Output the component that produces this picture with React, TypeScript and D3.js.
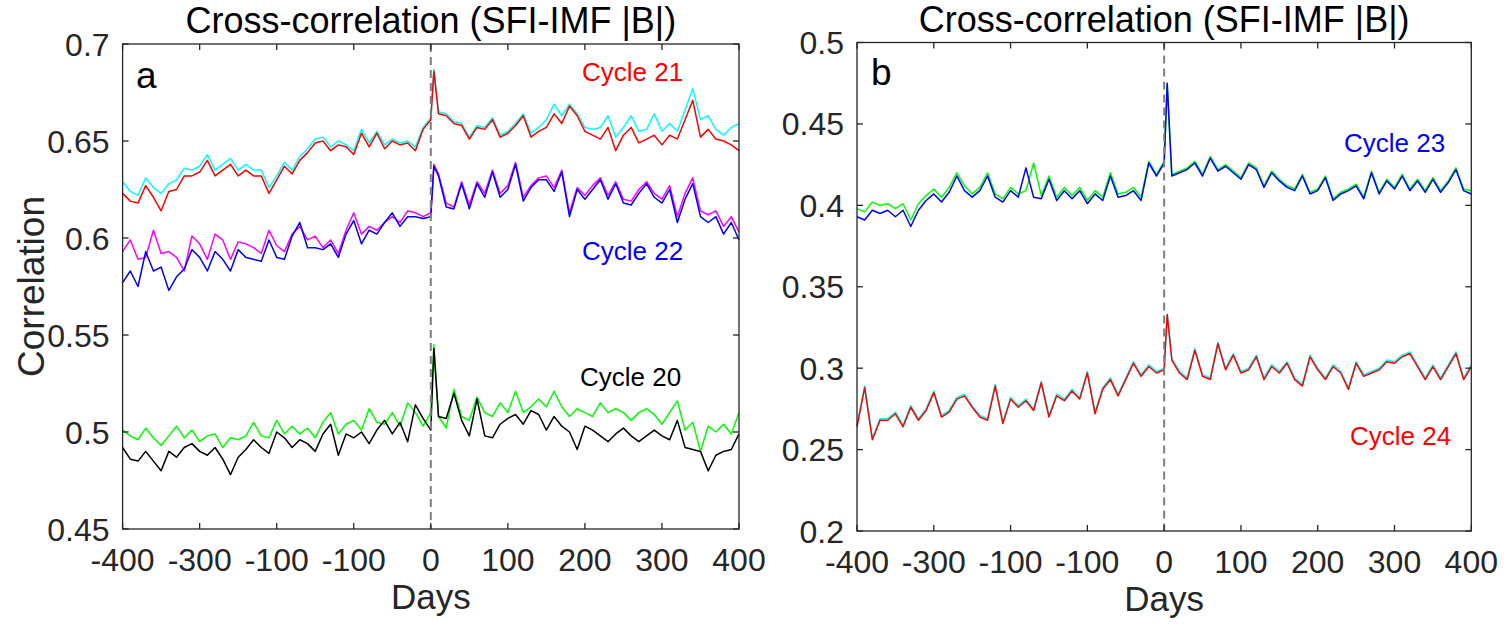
import React from 'react';
import * as d3 from 'd3';

// lag grid (days): every 10 days, plus the spike just after 0
const DAYS = [...d3.range(-400, 1, 10), 4, ...d3.range(10, 401, 10)];

const X_TICKS = [-400, -300, -200, -100, 0, 100, 200, 300, 400];
const X_TICK_LABELS = ['-400', '-300', '-100', '-100', '0', '100', '200', '300', '400'];
const A_Y_TICKS = [0.45, 0.5, 0.55, 0.6, 0.65, 0.7];
const A_Y_LABELS = ['0.45', '0.5', '0.55', '0.6', '0.65', '0.7'];
const B_Y_TICKS = [0.2, 0.25, 0.3, 0.35, 0.4, 0.45, 0.5];
const B_Y_LABELS = ['0.2', '0.25', '0.3', '0.35', '0.4', '0.45', '0.5'];

// panel a
const C21_CYAN = [
  .629, .624, .622, .631, .626, .623, .628, .630, .636, .635, .637, .643, .635, .638, .641, .635, .638, .635, .635, .626,
  .632, .639, .635, .642, .646, .651, .652, .647, .650, .648, .645, .656, .649, .655, .648, .651, .649, .650, .647, .657, .662,
  .687,
  .665, .664, .660, .659, .652, .658, .657, .662, .653, .655, .659, .664, .654, .657, .661, .669, .663, .669, .664, .657,
  .656, .657, .663, .652, .657, .663, .655, .656, .664, .655, .659, .655, .666, .677, .661, .663, .656, .653, .657, .659,
];
const C21_RED = [
  .623, .619, .618, .627, .621, .614, .624, .625, .632, .632, .634, .640, .632, .635, .638, .632, .635, .632, .632, .623,
  .630, .637, .633, .640, .644, .649, .650, .645, .648, .647, .643, .654, .647, .654, .646, .650, .648, .649, .645, .656, .661,
  .686,
  .664, .663, .659, .658, .651, .657, .656, .661, .652, .654, .658, .663, .652, .655, .657, .664, .659, .668, .663, .655,
  .653, .651, .657, .645, .653, .657, .649, .651, .653, .648, .653, .651, .661, .671, .652, .656, .651, .650, .648, .645,
];
const C22_MAGENTA = [
  .593, .599, .589, .590, .604, .592, .593, .590, .583, .601, .597, .589, .602, .599, .589, .598, .597, .595, .592, .604,
  .596, .593, .602, .606, .599, .601, .595, .599, .592, .604, .613, .602, .606, .604, .608, .611, .608, .614, .613, .611, .613,
  .638,
  .633, .618, .616, .629, .617, .629, .623, .635, .623, .627, .639, .621, .627, .631, .632, .626, .635, .613, .626, .622,
  .627, .631, .622, .629, .620, .619, .625, .629, .623, .620, .627, .611, .623, .631, .614, .612, .614, .606, .611, .603,
];
const C22_BLUE = [
  .577, .583, .575, .593, .583, .585, .573, .580, .584, .594, .590, .583, .593, .589, .583, .594, .590, .589, .588, .599,
  .590, .589, .601, .608, .595, .595, .594, .597, .590, .602, .609, .597, .604, .602, .608, .613, .606, .611, .611, .610, .611,
  .637,
  .632, .616, .615, .628, .615, .628, .621, .634, .621, .625, .638, .619, .626, .630, .630, .624, .634, .611, .625, .620,
  .625, .630, .620, .628, .618, .617, .623, .628, .621, .618, .625, .608, .620, .628, .611, .608, .611, .602, .608, .599,
];
const C20_GREEN = [
  .501, .498, .496, .502, .497, .493, .498, .503, .497, .501, .495, .498, .499, .492, .497, .496, .498, .505, .498, .497,
  .506, .499, .503, .499, .502, .497, .505, .510, .499, .504, .506, .501, .512, .505, .504, .510, .503, .515, .510, .503, .510,
  .545,
  .508, .502, .522, .508, .506, .518, .510, .508, .515, .510, .521, .510, .513, .517, .513, .521, .513, .508, .512, .510,
  .508, .515, .510, .512, .510, .506, .510, .512, .509, .504, .510, .516, .501, .505, .490, .503, .500, .504, .499, .510,
];
const C20_BLACK = [
  .492, .486, .485, .490, .485, .480, .490, .487, .492, .494, .490, .488, .492, .486, .478, .487, .491, .496, .492, .489,
  .500, .497, .492, .496, .494, .490, .499, .504, .488, .499, .497, .500, .494, .501, .506, .499, .505, .495, .514, .507, .501,
  .543,
  .508, .507, .520, .506, .498, .517, .498, .497, .504, .507, .509, .504, .511, .509, .501, .508, .503, .500, .491, .503,
  .501, .498, .495, .499, .502, .498, .495, .498, .501, .498, .496, .506, .492, .491, .490, .480, .488, .490, .491, .499,
];

// panel b
const C23_GREEN = [
  .398, .396, .402, .400, .401, .398, .401, .391, .401, .406, .410, .405, .411, .420, .412, .407, .411, .420, .407, .404,
  .411, .407, .409, .426, .406, .418, .405, .411, .406, .411, .403, .409, .405, .420, .407, .408, .411, .405, .427, .419, .427,
  .474,
  .419, .421, .423, .427, .419, .430, .422, .425, .421, .417, .426, .423, .412, .421, .416, .412, .410, .419, .408, .410,
  .418, .404, .408, .410, .413, .405, .421, .408, .416, .411, .419, .410, .416, .409, .417, .409, .415, .423, .410, .409,
];
const C23_BLUE = [
  .393, .391, .397, .395, .397, .393, .397, .387, .397, .403, .407, .402, .408, .418, .409, .405, .409, .418, .405, .402,
  .409, .405, .423, .405, .404, .416, .403, .409, .404, .409, .401, .407, .403, .418, .405, .406, .409, .403, .426, .418, .426,
  .475,
  .418, .420, .422, .426, .418, .429, .421, .424, .420, .416, .425, .422, .411, .420, .415, .411, .409, .418, .407, .409,
  .417, .403, .407, .409, .412, .404, .420, .407, .415, .410, .418, .409, .415, .408, .416, .408, .414, .422, .409, .407,
];
const C24_CYAN = [
  .265, .289, .257, .269, .269, .273, .265, .277, .269, .275, .286, .271, .274, .282, .284, .277, .271, .269, .290, .267,
  .282, .277, .281, .275, .292, .271, .284, .281, .287, .282, .298, .273, .288, .294, .284, .294, .304, .296, .302, .298, .300,
  .333,
  .306, .298, .294, .312, .296, .294, .316, .300, .309, .298, .300, .308, .294, .302, .298, .304, .294, .290, .308, .300,
  .294, .302, .298, .288, .304, .296, .298, .300, .305, .304, .308, .310, .302, .294, .302, .294, .302, .310, .294, .302,
];
const C24_RED = [
  .264, .288, .256, .268, .268, .272, .264, .276, .268, .274, .285, .270, .273, .281, .283, .276, .270, .268, .289, .266,
  .281, .276, .280, .274, .291, .270, .283, .280, .286, .281, .297, .272, .287, .293, .283, .293, .303, .295, .301, .297, .299,
  .333,
  .305, .297, .293, .311, .295, .293, .315, .299, .308, .297, .299, .307, .293, .301, .297, .303, .293, .289, .307, .299,
  .293, .301, .297, .287, .303, .295, .297, .299, .304, .303, .307, .309, .301, .293, .301, .293, .301, .309, .293, .301,
];

const FONT = '"Liberation Sans", Arial, Helvetica, sans-serif';
const AXIS_COLOR = '#262626';

interface Series { values: number[]; color: string }
interface Label { text: string; color: string; x: number; y: number }

interface PanelProps {
  left: number; right: number; top: number; bottom: number;
  yDomain: [number, number];
  yTicks: number[]; yLabels: string[];
  series: Series[];
  labels: Label[];
  letter: string; letterX: number; letterY: number;
  yTitle?: string;
}

function Panel(p: PanelProps) {
  const x = d3.scaleLinear().domain([-400, 400]).range([p.left, p.right]);
  const y = d3.scaleLinear().domain(p.yDomain).range([p.bottom, p.top]);
  const line = d3.line<number>().x((_, i) => x(DAYS[i])).y(d => y(d));
  const tickLen = 6;
  const cx = (p.left + p.right) / 2;

  return (
    <g fontFamily={FONT}>
      {/* series */}
      {p.series.map((s, i) => (
        <path key={i} d={line(s.values) ?? ''} fill="none" stroke={s.color} strokeWidth={1.5} strokeLinejoin="round" />
      ))}
      {/* zero-lag marker */}
      <line x1={x(0)} x2={x(0)} y1={p.top} y2={p.bottom} stroke="#7f7f7f" strokeWidth={2} strokeDasharray="8,5" />
      {/* box */}
      <rect x={p.left} y={p.top} width={p.right - p.left} height={p.bottom - p.top} fill="none" stroke={AXIS_COLOR} strokeWidth={1.3} />
      {X_TICKS.map((t, i) => (
        <g key={'x' + i}>
          <line x1={x(t)} x2={x(t)} y1={p.bottom} y2={p.bottom - tickLen} stroke={AXIS_COLOR} strokeWidth={1.3} />
          <line x1={x(t)} x2={x(t)} y1={p.top} y2={p.top + tickLen} stroke={AXIS_COLOR} strokeWidth={1.3} />
          <text x={x(t)} y={p.bottom + 42} textAnchor="middle" fontSize={32} fill={AXIS_COLOR}>{X_TICK_LABELS[i]}</text>
        </g>
      ))}
      {p.yTicks.map((t, i) => (
        <g key={'y' + i}>
          <line x1={p.left} x2={p.left + tickLen} y1={y(t)} y2={y(t)} stroke={AXIS_COLOR} strokeWidth={1.3} />
          <line x1={p.right} x2={p.right - tickLen} y1={y(t)} y2={y(t)} stroke={AXIS_COLOR} strokeWidth={1.3} />
          <text x={p.left - 13} y={y(t)} dy="0.36em" textAnchor="end" fontSize={32} fill={AXIS_COLOR}>{p.yLabels[i]}</text>
        </g>
      ))}
      <text x={cx} y={p.bottom + 80} textAnchor="middle" fontSize={35} fill={AXIS_COLOR}>Days</text>
      <text x={cx} y={p.top - 11} textAnchor="middle" fontSize={36} fill="#000">Cross-correlation (SFI-IMF |B|)</text>
      {p.yTitle && (
        <text transform={`translate(44,${(p.top + p.bottom) / 2}) rotate(-90)`} textAnchor="middle" fontSize={37} fill={AXIS_COLOR}>
          {p.yTitle}
        </text>
      )}
      <text x={p.letterX} y={p.letterY} fontSize={37} fill="#000">{p.letter}</text>
      {p.labels.map((l, i) => (
        <text key={'l' + i} x={l.x} y={l.y} fontSize={26} fill={l.color}>{l.text}</text>
      ))}
    </g>
  );
}

export default function App() {
  return (
    <div>
      <style>{'body{margin:0;background:#fff}'}</style>
      <svg width={1508} height={624} style={{ display: 'block', background: '#fff' }}>
        <Panel
          left={122.6} right={739} top={44} bottom={529}
          yDomain={[0.45, 0.7]} yTicks={A_Y_TICKS} yLabels={A_Y_LABELS}
          series={[
            { values: C21_CYAN, color: '#00ffff' },
            { values: C21_RED, color: '#ff0000' },
            { values: C22_MAGENTA, color: '#ff00ff' },
            { values: C22_BLUE, color: '#0000ff' },
            { values: C20_GREEN, color: '#00ff00' },
            { values: C20_BLACK, color: '#000000' },
          ]}
          labels={[
            { text: 'Cycle 21', color: '#ff0000', x: 582, y: 81 },
            { text: 'Cycle 22', color: '#0000ff', x: 582, y: 260 },
            { text: 'Cycle 20', color: '#000000', x: 580, y: 386 },
          ]}
          letter="a" letterX={136} letterY={88}
          yTitle="Correlation"
        />
        <Panel
          left={857} right={1471.3} top={42.5} bottom={531}
          yDomain={[0.2, 0.5]} yTicks={B_Y_TICKS} yLabels={B_Y_LABELS}
          series={[
            { values: C23_GREEN, color: '#00ff00' },
            { values: C23_BLUE, color: '#0000ff' },
            { values: C24_CYAN, color: '#00ffff' },
            { values: C24_RED, color: '#ff0000' },
          ]}
          labels={[
            { text: 'Cycle 23', color: '#0000ff', x: 1344, y: 152 },
            { text: 'Cycle 24', color: '#ff0000', x: 1350, y: 445 },
          ]}
          letter="b" letterX={871} letterY={85}
        />
      </svg>
    </div>
  );
}
